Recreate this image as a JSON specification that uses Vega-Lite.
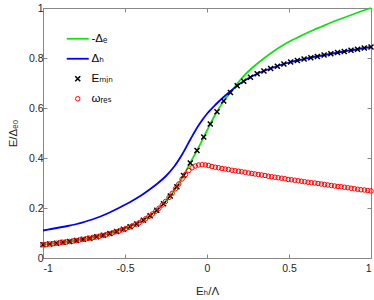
{
  "$schema": "https://vega.github.io/schema/vega-lite/v6.json",
  "width": 328,
  "height": 250,
  "autosize": {"type": "none"},
  "padding": {"left": 43, "top": 8, "right": 3, "bottom": 42},
  "background": "white",
  "config": {
    "font": "Liberation Sans, DejaVu Sans",
    "view": {"stroke": "#888888", "strokeWidth": 1},
    "axis": {
      "grid": false,
      "domain": false,
      "tickColor": "#888888",
      "tickSize": -4,
      "labelColor": "#262626",
      "labelFontSize": 10.5,
      "titleColor": "#262626",
      "titleFontSize": 11.5,
      "titleFontWeight": "normal"
    }
  },
  "datasets": {
    "green": [
      {"x": -1.0, "y": 0.053}, {"x": -0.95, "y": 0.057}, {"x": -0.9, "y": 0.061}, {"x": -0.85, "y": 0.065},
      {"x": -0.8, "y": 0.070}, {"x": -0.75, "y": 0.075}, {"x": -0.7, "y": 0.081}, {"x": -0.65, "y": 0.088},
      {"x": -0.6, "y": 0.096}, {"x": -0.55, "y": 0.106}, {"x": -0.5, "y": 0.117}, {"x": -0.45, "y": 0.130},
      {"x": -0.4, "y": 0.146}, {"x": -0.35, "y": 0.168}, {"x": -0.3, "y": 0.194}, {"x": -0.25, "y": 0.228},
      {"x": -0.2, "y": 0.270}, {"x": -0.15, "y": 0.322}, {"x": -0.1, "y": 0.383}, {"x": -0.05, "y": 0.444},
      {"x": 0.0, "y": 0.510}, {"x": 0.05, "y": 0.573}, {"x": 0.1, "y": 0.626}, {"x": 0.15, "y": 0.668},
      {"x": 0.2, "y": 0.710}, {"x": 0.25, "y": 0.745}, {"x": 0.3, "y": 0.774}, {"x": 0.35, "y": 0.800},
      {"x": 0.4, "y": 0.824}, {"x": 0.45, "y": 0.846}, {"x": 0.5, "y": 0.865}, {"x": 0.55, "y": 0.881},
      {"x": 0.6, "y": 0.897}, {"x": 0.65, "y": 0.912}, {"x": 0.7, "y": 0.926}, {"x": 0.75, "y": 0.940},
      {"x": 0.8, "y": 0.953}, {"x": 0.85, "y": 0.965}, {"x": 0.9, "y": 0.977}, {"x": 0.95, "y": 0.989},
      {"x": 1.0, "y": 1.0}
    ],
    "blue": [
      {"x": -1.0, "y": 0.110}, {"x": -0.95, "y": 0.116}, {"x": -0.9, "y": 0.122}, {"x": -0.85, "y": 0.128},
      {"x": -0.8, "y": 0.135}, {"x": -0.75, "y": 0.144}, {"x": -0.7, "y": 0.154}, {"x": -0.65, "y": 0.166},
      {"x": -0.6, "y": 0.180}, {"x": -0.55, "y": 0.196}, {"x": -0.5, "y": 0.213}, {"x": -0.45, "y": 0.231},
      {"x": -0.4, "y": 0.251}, {"x": -0.35, "y": 0.274}, {"x": -0.3, "y": 0.299}, {"x": -0.25, "y": 0.328},
      {"x": -0.2, "y": 0.366}, {"x": -0.15, "y": 0.416}, {"x": -0.1, "y": 0.476}, {"x": -0.05, "y": 0.532},
      {"x": 0.0, "y": 0.577}, {"x": 0.05, "y": 0.612}, {"x": 0.1, "y": 0.643}, {"x": 0.15, "y": 0.671},
      {"x": 0.2, "y": 0.697}, {"x": 0.25, "y": 0.718}, {"x": 0.3, "y": 0.735}, {"x": 0.35, "y": 0.749},
      {"x": 0.4, "y": 0.761}, {"x": 0.45, "y": 0.772}, {"x": 0.5, "y": 0.782}, {"x": 0.55, "y": 0.790},
      {"x": 0.6, "y": 0.797}, {"x": 0.65, "y": 0.804}, {"x": 0.7, "y": 0.810}, {"x": 0.75, "y": 0.816},
      {"x": 0.8, "y": 0.822}, {"x": 0.85, "y": 0.828}, {"x": 0.9, "y": 0.833}, {"x": 0.95, "y": 0.839},
      {"x": 1.0, "y": 0.844}
    ],
    "emin": [
      {"x": -1.000, "y": 0.053}, {"x": -0.959, "y": 0.056}, {"x": -0.918, "y": 0.059}, {"x": -0.878, "y": 0.063},
      {"x": -0.837, "y": 0.066}, {"x": -0.796, "y": 0.070}, {"x": -0.755, "y": 0.075}, {"x": -0.714, "y": 0.079},
      {"x": -0.673, "y": 0.085}, {"x": -0.633, "y": 0.091}, {"x": -0.592, "y": 0.098}, {"x": -0.551, "y": 0.106},
      {"x": -0.510, "y": 0.115}, {"x": -0.469, "y": 0.125}, {"x": -0.429, "y": 0.136}, {"x": -0.388, "y": 0.151},
      {"x": -0.347, "y": 0.169}, {"x": -0.306, "y": 0.191}, {"x": -0.265, "y": 0.217}, {"x": -0.224, "y": 0.248},
      {"x": -0.184, "y": 0.285}, {"x": -0.143, "y": 0.330}, {"x": -0.102, "y": 0.380}, {"x": -0.061, "y": 0.430},
      {"x": -0.020, "y": 0.484}, {"x": 0.020, "y": 0.536}, {"x": 0.061, "y": 0.585}, {"x": 0.102, "y": 0.628},
      {"x": 0.143, "y": 0.662}, {"x": 0.184, "y": 0.689}, {"x": 0.224, "y": 0.707}, {"x": 0.265, "y": 0.723},
      {"x": 0.306, "y": 0.737}, {"x": 0.347, "y": 0.748}, {"x": 0.388, "y": 0.758}, {"x": 0.429, "y": 0.767},
      {"x": 0.469, "y": 0.776}, {"x": 0.510, "y": 0.784}, {"x": 0.551, "y": 0.790}, {"x": 0.592, "y": 0.796},
      {"x": 0.633, "y": 0.801}, {"x": 0.673, "y": 0.806}, {"x": 0.714, "y": 0.812}, {"x": 0.755, "y": 0.817},
      {"x": 0.796, "y": 0.822}, {"x": 0.837, "y": 0.826}, {"x": 0.878, "y": 0.831}, {"x": 0.918, "y": 0.835},
      {"x": 0.959, "y": 0.840}, {"x": 1.000, "y": 0.844}
    ],
    "wres": [
      {"x": -1.000, "y": 0.053}, {"x": -0.980, "y": 0.054}, {"x": -0.960, "y": 0.056}, {"x": -0.939, "y": 0.057},
      {"x": -0.919, "y": 0.059}, {"x": -0.899, "y": 0.061}, {"x": -0.879, "y": 0.063}, {"x": -0.859, "y": 0.064},
      {"x": -0.838, "y": 0.066}, {"x": -0.818, "y": 0.068}, {"x": -0.798, "y": 0.070}, {"x": -0.778, "y": 0.072},
      {"x": -0.758, "y": 0.074}, {"x": -0.737, "y": 0.077}, {"x": -0.717, "y": 0.079}, {"x": -0.697, "y": 0.082},
      {"x": -0.677, "y": 0.084}, {"x": -0.657, "y": 0.087}, {"x": -0.636, "y": 0.090}, {"x": -0.616, "y": 0.093},
      {"x": -0.596, "y": 0.097}, {"x": -0.576, "y": 0.101}, {"x": -0.556, "y": 0.105}, {"x": -0.535, "y": 0.109},
      {"x": -0.515, "y": 0.113}, {"x": -0.495, "y": 0.118}, {"x": -0.475, "y": 0.123}, {"x": -0.455, "y": 0.129},
      {"x": -0.434, "y": 0.135}, {"x": -0.414, "y": 0.141}, {"x": -0.394, "y": 0.149}, {"x": -0.374, "y": 0.157},
      {"x": -0.354, "y": 0.166}, {"x": -0.333, "y": 0.176}, {"x": -0.313, "y": 0.187}, {"x": -0.293, "y": 0.199},
      {"x": -0.273, "y": 0.212}, {"x": -0.253, "y": 0.226}, {"x": -0.232, "y": 0.242}, {"x": -0.212, "y": 0.259},
      {"x": -0.192, "y": 0.277}, {"x": -0.172, "y": 0.296}, {"x": -0.152, "y": 0.316}, {"x": -0.131, "y": 0.334},
      {"x": -0.111, "y": 0.350}, {"x": -0.091, "y": 0.361}, {"x": -0.071, "y": 0.368}, {"x": -0.051, "y": 0.372},
      {"x": -0.030, "y": 0.373}, {"x": -0.010, "y": 0.372}, {"x": 0.010, "y": 0.370}, {"x": 0.030, "y": 0.366},
      {"x": 0.051, "y": 0.363}, {"x": 0.071, "y": 0.361}, {"x": 0.091, "y": 0.358}, {"x": 0.111, "y": 0.356},
      {"x": 0.131, "y": 0.354}, {"x": 0.152, "y": 0.351}, {"x": 0.172, "y": 0.349}, {"x": 0.192, "y": 0.347},
      {"x": 0.212, "y": 0.345}, {"x": 0.232, "y": 0.343}, {"x": 0.253, "y": 0.340}, {"x": 0.273, "y": 0.338},
      {"x": 0.293, "y": 0.336}, {"x": 0.313, "y": 0.334}, {"x": 0.333, "y": 0.332}, {"x": 0.354, "y": 0.330},
      {"x": 0.374, "y": 0.327}, {"x": 0.394, "y": 0.325}, {"x": 0.414, "y": 0.323}, {"x": 0.434, "y": 0.321},
      {"x": 0.455, "y": 0.319}, {"x": 0.475, "y": 0.317}, {"x": 0.495, "y": 0.314}, {"x": 0.515, "y": 0.313},
      {"x": 0.535, "y": 0.311}, {"x": 0.556, "y": 0.309}, {"x": 0.576, "y": 0.307}, {"x": 0.596, "y": 0.305},
      {"x": 0.616, "y": 0.303}, {"x": 0.636, "y": 0.301}, {"x": 0.657, "y": 0.300}, {"x": 0.677, "y": 0.298},
      {"x": 0.697, "y": 0.296}, {"x": 0.717, "y": 0.294}, {"x": 0.737, "y": 0.292}, {"x": 0.758, "y": 0.290},
      {"x": 0.778, "y": 0.288}, {"x": 0.798, "y": 0.286}, {"x": 0.818, "y": 0.285}, {"x": 0.838, "y": 0.283},
      {"x": 0.859, "y": 0.281}, {"x": 0.879, "y": 0.279}, {"x": 0.899, "y": 0.277}, {"x": 0.919, "y": 0.275},
      {"x": 0.939, "y": 0.273}, {"x": 0.960, "y": 0.272}, {"x": 0.980, "y": 0.270}, {"x": 1.000, "y": 0.268}
    ]
  },
  "layer": [
    {
      "data": {"name": "green"},
      "mark": {"type": "line", "strokeWidth": 1.8, "interpolate": "catmull-rom"},
      "encoding": {
        "x": {"field": "x", "type": "quantitative",
          "scale": {"domain": [-1, 1], "nice": false, "zero": false},
          "axis": {"orient": "bottom", "values": [-1, -0.5, 0, 0.5, 1], "format": "~g",
            "labelExpr": "replace(datum.label, '\u2212', '-')", "labelPadding": 9,
            "title": "Eₕ/Λ", "titlePadding": 12}},
        "y": {"field": "y", "type": "quantitative",
          "scale": {"domain": [0, 1], "nice": false},
          "axis": {"orient": "left", "values": [0, 0.2, 0.4, 0.6, 0.8, 1], "format": "~g",
            "labelPadding": 4, "title": "E/Δₑ₀", "titlePadding": 10}},
        "color": {"datum": "-Δₑ", "type": "nominal",
          "scale": {"domain": ["-Δₑ", "Δₕ", "Eₘᵢₙ", "ωᵣₑₛ"], "range": ["#11e011", "#0000ff", "#000000", "#ff0000"]},
          "legend": {
            "orient": "none", "legendX": 29, "legendY": 25, "title": null, "padding": 0,
            "labelFontSize": 11.5, "labelColor": "#000000", "labelOffset": 8,
            "symbolSize": 484, "symbolStrokeWidth": 1.8, "symbolType": "stroke", "rowPadding": 7,
            "encode": {"symbols": {"update": {
              "shape": {"signal": "datum.label == 'Eₘᵢₙ' ? 'M-1,-1L1,1M-1,1L1,-1' : (datum.label == 'ωᵣₑₛ' ? 'circle' : 'stroke')"},
              "size": {"signal": "datum.label == 'Eₘᵢₙ' ? 25 : (datum.label == 'ωᵣₑₛ' ? 20 : 484)"},
              "strokeWidth": {"signal": "datum.label == 'Eₘᵢₙ' ? 1.6 : (datum.label == 'ωᵣₑₛ' ? 1 : 1.8)"},
              "fill": {"value": "transparent"},
              "stroke": {"scale": "color", "field": "value"}
            }}}
          }}
      }
    },
    {
      "data": {"name": "blue"},
      "mark": {"type": "line", "strokeWidth": 1.8, "interpolate": "catmull-rom"},
      "encoding": {
        "x": {"field": "x", "type": "quantitative",
          "axis": {"orient": "top", "values": [-1, -0.5, 0, 0.5, 1], "labels": false, "title": null}},
        "y": {"field": "y", "type": "quantitative",
          "axis": {"orient": "right", "values": [0, 0.2, 0.4, 0.6, 0.8, 1], "labels": false, "title": null}},
        "color": {"datum": "Δₕ", "type": "nominal"}
      }
    },
    {
      "data": {"name": "emin"},
      "mark": {"type": "point", "shape": "M-1,-1L1,1M-1,1L1,-1", "filled": false, "size": 25, "strokeWidth": 1.5, "opacity": 1},
      "encoding": {
        "x": {"field": "x", "type": "quantitative", "axis": null},
        "y": {"field": "y", "type": "quantitative", "axis": null},
        "color": {"datum": "Eₘᵢₙ", "type": "nominal"}
      }
    },
    {
      "data": {"name": "wres"},
      "mark": {"type": "point", "shape": "circle", "filled": false, "size": 20, "strokeWidth": 1, "opacity": 1},
      "encoding": {
        "x": {"field": "x", "type": "quantitative", "axis": null},
        "y": {"field": "y", "type": "quantitative", "axis": null},
        "color": {"datum": "ωᵣₑₛ", "type": "nominal"}
      }
    }
  ],
  "resolve": {"axis": {"x": "independent", "y": "independent"}}
}
